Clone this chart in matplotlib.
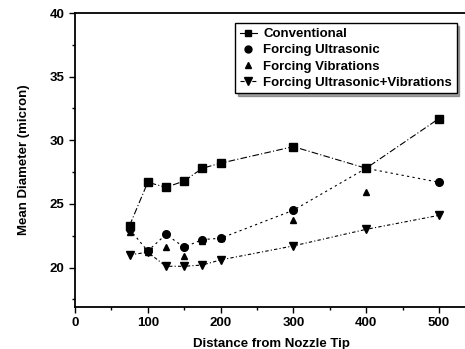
import matplotlib
matplotlib.use('Agg')
import matplotlib.pyplot as plt
from matplotlib.lines import Line2D
from matplotlib.ticker import MultipleLocator

plt.rcParams['font.family'] = ['Liberation Sans', 'DejaVu Sans']
plt.rcParams['font.weight'] = 'bold'

distance = [75, 100, 125, 150, 175, 200, 300, 400, 500]
conventional = [23.3, 26.7, 26.3, 26.8, 27.8, 28.2, 29.5, 27.8, 31.7]
ultrasonic = [23.0, 21.3, 22.6, 21.6, 22.2, 22.3, 24.5, 27.8, 26.7]
vibrations = [22.8, 21.2, 21.6, 20.9, 22.1, 22.3, 23.7, 25.9, 26.8]
ultra_vib = [21.0, 21.2, 20.1, 20.1, 20.2, 20.6, 21.7, 23.0, 24.1]

labels = ['Conventional', 'Forcing Ultrasonic', 'Forcing Vibrations',
          'Forcing Ultrasonic+Vibrations']

fig = plt.figure(figsize=(4.65, 3.49), dpi=100)
ax = fig.add_axes([75 / 465, 42 / 349, 393 / 465, 294 / 349])

ax.plot(distance, conventional, color='black', ls=(0, (6, 2, 1, 2)), lw=0.8,
        marker='s', ms=5.5)
ax.plot(distance, ultrasonic, color='black', ls=(0, (2, 3)), lw=0.8,
        marker='o', ms=5.5)
ax.plot(distance, vibrations, color='black', ls='none', marker='^', ms=5)
ax.plot(distance, ultra_vib, color='black', ls=(0, (3, 2, 1, 2)), lw=0.8,
        marker='v', ms=6)

handles = [
    Line2D([], [], color='black', ls='-', lw=0.8, marker='s', ms=5),
    Line2D([], [], color='black', ls='none', marker='o', ms=5),
    Line2D([], [], color='black', ls='none', marker='^', ms=4.5),
    Line2D([], [], color='black', ls='--', lw=0.8, marker='v', ms=5.5),
]
leg = ax.legend(handles, labels, loc='upper right', bbox_to_anchor=(0.988, 0.987),
                fancybox=False, edgecolor='black', framealpha=1, fontsize=9.5,
                handlelength=1.3, borderpad=0.35, labelspacing=0.3,
                handletextpad=0.5, shadow=True)
leg.get_frame().set_linewidth(1.0)

ax.set_xlim(0, 540)
ax.set_ylim(16.9, 40)
ax.xaxis.set_major_locator(MultipleLocator(100))
ax.xaxis.set_minor_locator(MultipleLocator(50))
ax.yaxis.set_major_locator(MultipleLocator(5))
ax.yaxis.set_minor_locator(MultipleLocator(2.5))
ax.tick_params(which='major', direction='out', length=4, width=1, labelsize=9.5)
ax.tick_params(which='minor', direction='out', length=2, width=1)
ax.spines['right'].set_visible(False)
for s in ['left', 'bottom', 'top']:
    ax.spines[s].set_linewidth(1.3)

ax.set_xlabel('Distance from Nozzle Tip', fontsize=9.5, fontweight='bold', labelpad=6)
ax.set_ylabel('Mean Diameter (micron)', fontsize=9.5, fontweight='bold', labelpad=14)

fig.savefig('out.png', dpi=100)
